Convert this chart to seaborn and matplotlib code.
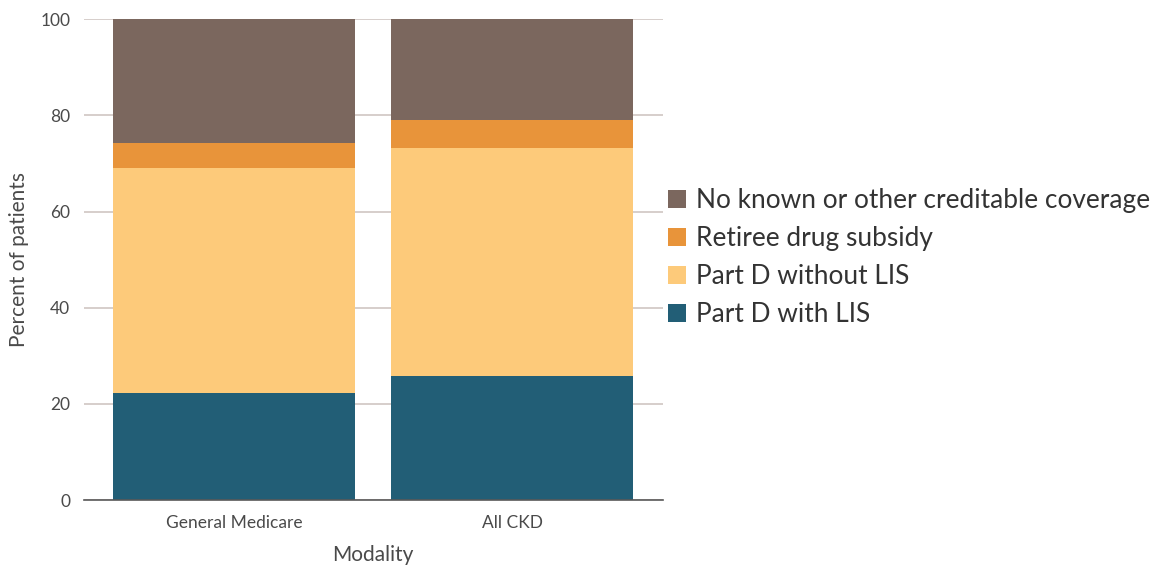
import numpy as np
import pandas as pd
import matplotlib
matplotlib.use("Agg")
import matplotlib.pyplot as plt
from matplotlib.patches import Patch
import seaborn as sns

# Prescription drug coverage, percent of patients
groups = ["General Medicare", "All CKD"]
series = ["Part D with LIS", "Part D without LIS", "Retiree drug subsidy",
          "No known or other creditable coverage"]
part_d_lis = [22.2, 25.9]
part_d_no_lis = [46.8, 47.3]
retiree_subsidy = [5.3, 5.8]
no_coverage = [25.7, 21.0]
colors = ["#225E76", "#FDCA7A", "#E8943A", "#7B675E"]
yticks = [0, 20, 40, 60, 80, 100]

values = [part_d_lis, part_d_no_lis, retiree_subsidy, no_coverage]
df = pd.DataFrame({"Modality": groups})
for name, vals in zip(series, values):
    df[name] = vals
# cumulative tops for stacking
cum = df[series].cumsum(axis=1)

sns.set_theme(style="white")
plt.rcParams["font.family"] = ["Lato", "DejaVu Sans"]

fig = plt.figure(figsize=(11.64, 5.67), dpi=100)
ax = fig.add_axes([0.0722, 0.118, 0.497, 0.848])

# draw tallest cumulative first so lower segments sit on top
for name, col in reversed(list(zip(series, colors))):
    sns.barplot(x=df["Modality"], y=cum[name], color=col, width=0.87,
                saturation=1, ax=ax, zorder=2, edgecolor="none")

text_col = "#4A4A4A"
ax.set_ylim(0, 100)
ax.set_xlim(-0.54, 1.54)
ax.set_yticks(yticks)
ax.set_yticklabels([str(t) for t in yticks])
ax.yaxis.grid(True, color="#CBC1BD", linewidth=1.1, zorder=0)
ax.set_axisbelow(True)
for s in ["top", "right", "left"]:
    ax.spines[s].set_visible(False)
ax.spines["bottom"].set_color("#595959")
ax.spines["bottom"].set_linewidth(1.2)
ax.tick_params(axis="both", length=0, labelsize=12.5, labelcolor=text_col)
ax.tick_params(axis="x", pad=11)
ax.tick_params(axis="y", pad=10)
ax.set_xlabel("Modality", fontsize=15, color=text_col, labelpad=10)
ax.set_ylabel("Percent of patients", fontsize=15, color=text_col, labelpad=8)

handles = [Patch(facecolor=c, edgecolor="none", label=n)
           for n, c in zip(series, colors)][::-1]
leg = fig.legend(handles=handles, loc="center left", bbox_to_anchor=(0.5535, 0.546),
                 frameon=False, fontsize=18.9, handlelength=0.68, handleheight=0.68,
                 handletextpad=0.38, labelspacing=0.5)
for t in leg.get_texts():
    t.set_color("#333333")

fig.savefig("out.png", dpi=100)
